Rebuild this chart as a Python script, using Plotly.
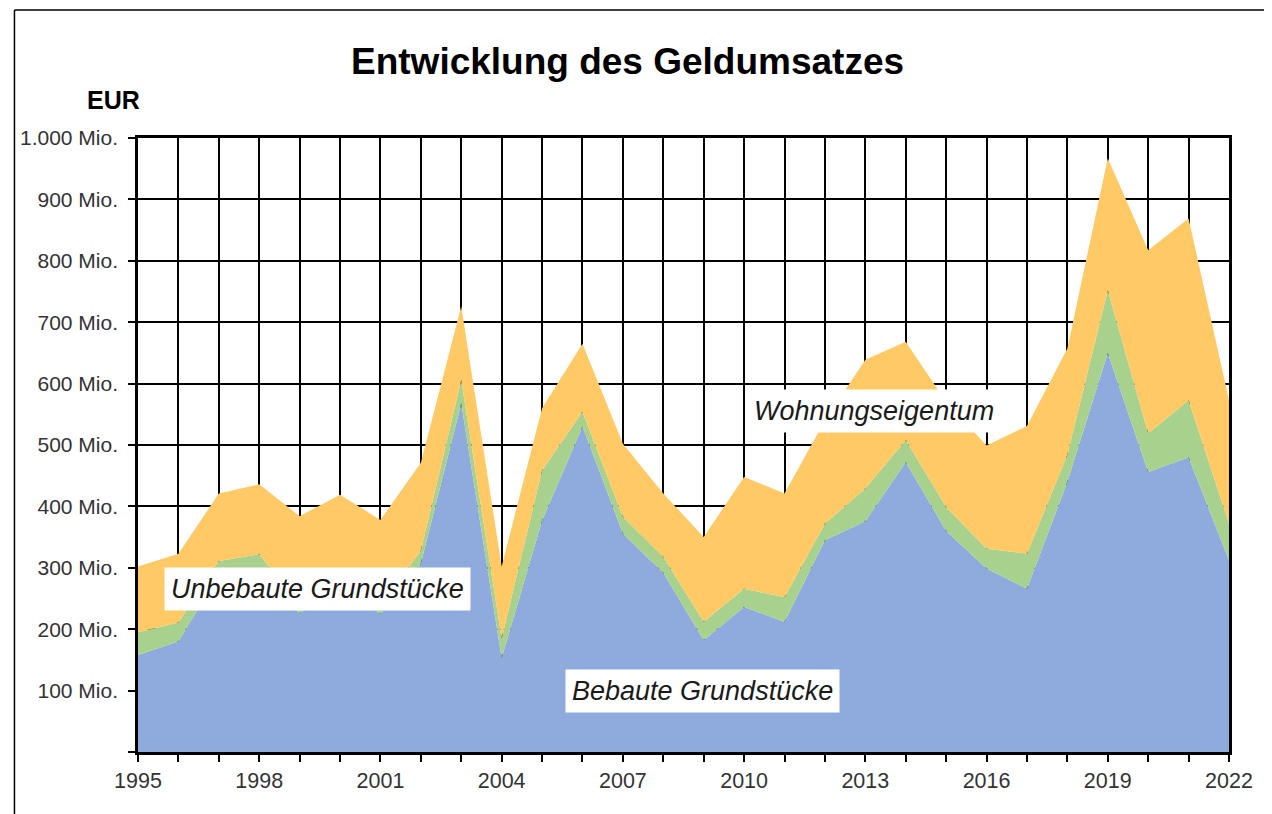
import plotly.graph_objects as go

# Jahre
years = [1995, 1996, 1997, 1998, 1999, 2000, 2001, 2002, 2003, 2004, 2005, 2006, 2007, 2008,
         2009, 2010, 2011, 2012, 2013, 2014, 2015, 2016, 2017, 2018, 2019, 2020, 2021, 2022]

# Geldumsatz in Mio. EUR (gestapelte Anteile)
bebaute = [158, 180, 290, 290, 226, 270, 225, 307, 568, 153, 377, 530, 356, 292,
           182, 236, 212, 345, 376, 472, 360, 299, 266, 440, 650, 456, 480, 312]
unbebaute = [37, 31, 21, 32, 14, 15, 13, 21, 38, 32, 82, 24, 27, 26,
             30, 30, 40, 27, 53, 36, 39, 32, 57, 44, 102, 63, 93, 60]
wohnungseigentum = [107, 112, 110, 114, 144, 134, 140, 143, 120, 117, 101, 111, 119, 103,
                    138, 182, 169, 168, 210, 160, 171, 168, 208, 173, 215, 298, 296, 201]

# Achsenbeschriftungen
x_tick_vals = years
x_tick_text = ["1995", "", "", "1998", "", "", "2001", "", "", "2004", "", "", "2007", "",
               "", "2010", "", "", "2013", "", "", "2016", "", "", "2019", "", "", "2022"]
y_tick_vals = [0, 100, 200, 300, 400, 500, 600, 700, 800, 900, 1000]
y_tick_text = ["", "100 Mio.", "200 Mio.", "300 Mio.", "400 Mio.", "500 Mio.",
               "600 Mio.", "700 Mio.", "800 Mio.", "900 Mio.", "1.000 Mio."]

BLUE = "#8FAADC"
GREEN = "#A9D18E"
ORANGE = "#FFC966"
FONT = "Liberation Sans, Arial, sans-serif"

fig = go.Figure()
for name, vals, col in [("Bebaute Grundstücke", bebaute, BLUE),
                        ("Unbebaute Grundstücke", unbebaute, GREEN),
                        ("Wohnungseigentum", wohnungseigentum, ORANGE)]:
    fig.add_trace(go.Scatter(
        x=years, y=vals, name=name, mode="lines", stackgroup="one",
        line=dict(width=0, color=col), fillcolor=col, showlegend=False,
        hoverinfo="x+y+name",
    ))

# page body has an 8px margin: compensate so the picture lands where the reference is
OFF = 8
W, H = 1272 - OFF, 814 - OFF
L, T = 134 - OFF, 138 - OFF
R = W - (1229 - OFF)
B = H - (752 - OFF)
pw, ph = W - L - R, H - T - B

def px(x):
    # x in screen pixels
    return (x - OFF - L) / pw

def py(y):
    # y in screen pixels
    return (H - B - (y - OFF)) / ph

fig.update_layout(
    width=W, height=H,
    margin=dict(l=L, r=R, t=T, b=B, pad=0),
    paper_bgcolor="white", plot_bgcolor="white",
    font=dict(family=FONT, color="#333333"),
    xaxis=dict(
        range=[1995, 2022], tickmode="array", tickvals=x_tick_vals, ticktext=x_tick_text,
        showgrid=True, gridcolor="black", gridwidth=2,
        showline=True, linecolor="black", linewidth=2.5, mirror=True,
        ticks="outside", ticklen=7, tickwidth=2, tickcolor="black",
        tickfont=dict(size=21.5, color="#333333", family=FONT), zeroline=False,
    ),
    yaxis=dict(
        range=[0, 1000], tickmode="array", tickvals=y_tick_vals, ticktext=y_tick_text,
        showgrid=True, gridcolor="black", gridwidth=2,
        showline=True, linecolor="black", linewidth=2.5, mirror=True,
        ticks="outside", ticklen=7, tickwidth=2, tickcolor="black",
        tickfont=dict(size=21, color="#333333", family=FONT), zeroline=False,
        ticklabelstandoff=6,
    ),
    annotations=[
        dict(text="<b>Entwicklung des Geldumsatzes</b>", xref="paper", yref="paper",
             x=px(625), y=py(62), xanchor="center", yanchor="middle", showarrow=False,
             font=dict(size=37, color="black", family=FONT)),
        dict(text="<b>EUR</b>", xref="paper", yref="paper",
             x=px(81), y=py(100), xanchor="left", yanchor="middle", showarrow=False,
             font=dict(size=25, color="black", family=FONT)),
        dict(text="<i>Unbebaute Grundstücke</i>", x=1999.45, y=265, xref="x", yref="y",
             showarrow=False, bgcolor="white", borderpad=6,
             font=dict(size=27, color="#1a1a1a", family=FONT)),
        dict(text="<i>Bebaute Grundstücke</i>", x=2008.98, y=100, xref="x", yref="y",
             showarrow=False, bgcolor="white", borderpad=6,
             font=dict(size=27, color="#1a1a1a", family=FONT)),
        dict(text="<i>Wohnungseigentum</i>", x=2013.22, y=555, xref="x", yref="y",
             showarrow=False, bgcolor="white", borderpad=6,
             font=dict(size=27, color="#1a1a1a", family=FONT)),
    ],
    shapes=[
        dict(type="line", xref="paper", yref="paper", x0=px(10), x1=px(1268),
             y0=py(10), y1=py(10), line=dict(color="black", width=1.5)),
        dict(type="line", xref="paper", yref="paper", x0=px(10), x1=px(10),
             y0=py(10), y1=py(814), line=dict(color="black", width=1.5)),
    ],
)

fig.write_html("out.html")
